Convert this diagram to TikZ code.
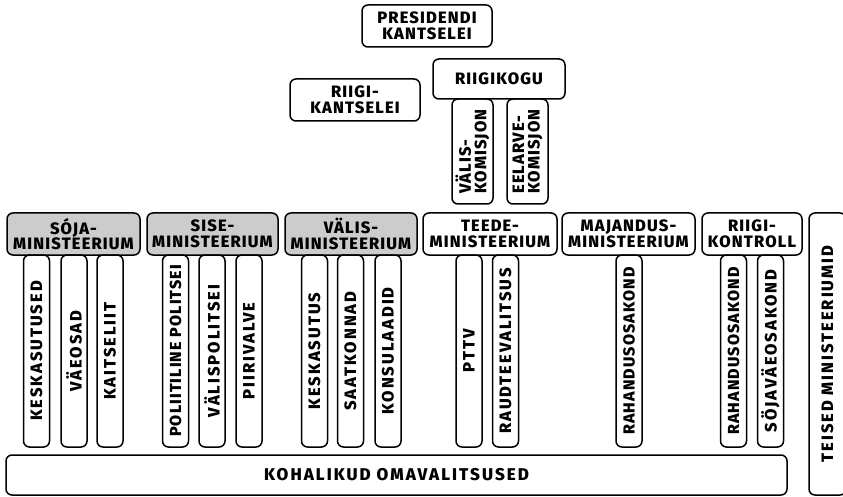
\documentclass[tikz,border=0pt]{standalone}
\usepackage{fontspec}
\setmainfont{Fira Sans}[BoldFont={Fira Sans ExtraBold}]
\newfontfamily\spaced{Fira Sans}[BoldFont={Fira Sans ExtraBold}, LetterSpace=7]
\newfontfamily\wide{Fira Sans}[BoldFont={Fira Sans ExtraBold}, LetterSpace=12]
\usepackage{tikz}

\begin{document}
\begin{tikzpicture}[x=1pt, y=-1pt,
  box/.style = {draw, line width=1.5pt, rounded corners=6pt, inner sep=0pt,
    align=center, font=\spaced\fontsize{16.5}{15.5}\selectfont\bfseries},
  head/.style = {box, minimum height=42pt},
  grey/.style = {fill=black!20},
  col/.style = {box, rotate=90, minimum width=192pt, minimum height=26pt,
    font=\wide\fontsize{16.5}{15.5}\selectfont\bfseries},
  tight/.style = {font=\spaced\fontsize{16}{15.5}\selectfont\bfseries}]
\useasboundingbox (0,0) rectangle (843,497);
% top
\node[box, minimum width=130pt, minimum height=42pt] (pres) at (427,26) {PRESIDENDI\\KANTSELEI};
\node[box, minimum width=132pt, minimum height=40pt] (kogu) at (499,79) {RIIGIKOGU};
\node[box, minimum width=130pt, minimum height=42pt] (kants) at (355,100) {RIIGI-\\KANTSELEI};
\node[box, rotate=90, align=left, minimum width=105pt, minimum height=41pt] (vkom) at (472.5,151.5) {VÄLIS-\\KOMISJON};
\node[box, rotate=90, align=left, minimum width=105pt, minimum height=41pt] (ekom) at (527.5,151.5) {EELARVE-\\KOMISJON};
% ministries
\node[head, grey, minimum width=133pt] (soja) at (73.5,234) {SÓJA-\\MINISTEERIUM};
\node[head, grey, minimum width=131pt] (sise) at (212.5,234) {SISE-\\MINISTEERIUM};
\node[head, grey, minimum width=132pt] (valis) at (351,234) {VÄLIS-\\MINISTEERIUM};
\node[head, minimum width=134pt] (teede) at (490,234) {TEEDE-\\MINISTEERIUM};
\node[head, minimum width=133pt] (maj) at (628.5,234) {MAJANDUS-\\MINISTEERIUM};
\node[head, minimum width=100pt] (kontr) at (752,234) {RIIGI-\\KONTROLL};
\node[col, minimum width=282pt, minimum height=37pt] (teised) at (827.5,354) {TEISED MINISTEERIUMID};
% sub-units
\node[col] (s1) at (36.5,351) {KESKASUTUSED};
\node[col] (s2) at (74,351) {VÄEOSAD};
\node[col] (s3) at (110,351) {KAITSELIIT};
\node[col, tight] (i1) at (175.5,351) {POLIITILINE POLITSEI};
\node[col] (i2) at (212,351) {VÄLISPOLITSEI};
\node[col] (i3) at (249,351) {PIIRIVALVE};
\node[col] (v1) at (314.5,351) {KESKASUTUS};
\node[col] (v2) at (350.5,351) {SAATKONNAD};
\node[col] (v3) at (388,351) {KONSULAADID};
\node[col] (t1) at (469,351) {PTTV};
\node[col] (t2) at (505.5,351) {RAUDTEEVALITSUS};
\node[col, tight] (m1) at (629,351) {RAHANDUSOSAKOND};
\node[col, tight] (k1) at (733.5,351) {RAHANDUSOSAKOND};
\node[col] (k2) at (770.5,351) {SÖJAVÄEOSAKOND};
% bottom
\node[box, minimum width=781pt, minimum height=40pt, font=\wide\fontsize{17}{17}\selectfont\bfseries] (kov) at (396.5,475) {KOHALIKUD OMAVALITSUSED};
\end{tikzpicture}
\end{document}
